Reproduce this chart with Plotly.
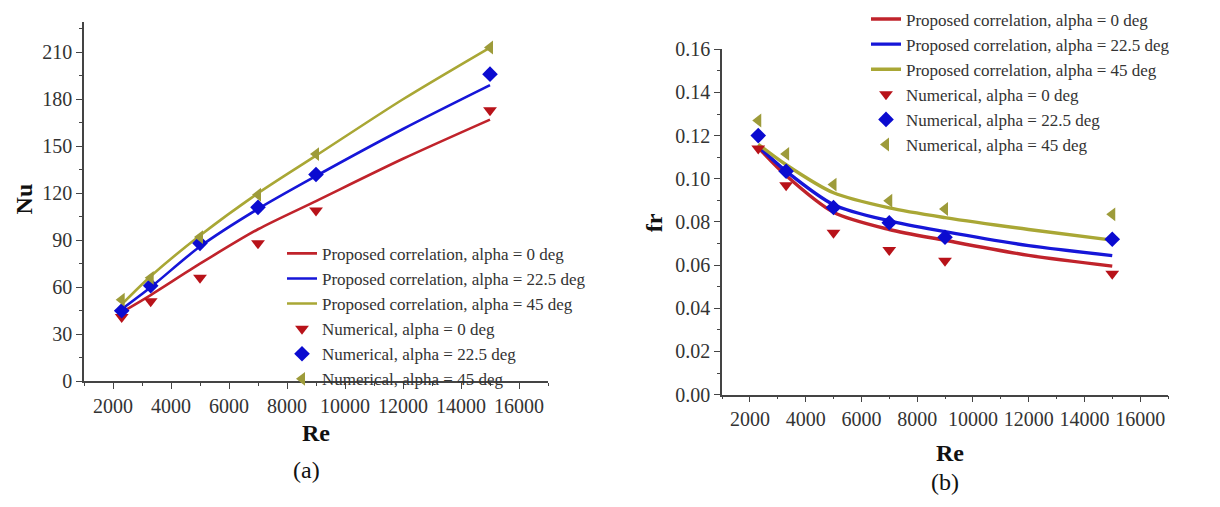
import plotly.graph_objects as go

W, H = 1220, 507

# ---- data -------------------------------------------------------------
re_num = [2300, 3300, 5000, 7000, 9000, 15000]
re_fit = [2300, 3300, 5000, 7000, 9000, 12000, 15000]

labels_fit = ["Proposed correlation, alpha = 0 deg",
              "Proposed correlation, alpha = 22.5 deg",
              "Proposed correlation, alpha = 45 deg"]
labels_num = ["Numerical, alpha = 0 deg",
              "Numerical, alpha = 22.5 deg",
              "Numerical, alpha = 45 deg"]

# Nusselt number
nu_fit_0 = [44, 55, 75, 97, 115, 142, 167]
nu_fit_225 = [46, 60, 86, 110, 131, 161, 189]
nu_fit_45 = [49, 67, 93, 120, 144, 180, 213]
nu_num_0 = [41, 51, 66, 88, 109, 173]
nu_num_225 = [45, 61, 88, 111, 132, 196]
nu_num_45 = [52, 66, 92, 119, 145, 213]

# friction factor
fr_fit_0 = [0.1145, 0.1015, 0.0845, 0.0765, 0.0715, 0.0645, 0.0595]
fr_fit_225 = [0.1150, 0.1035, 0.0880, 0.0805, 0.0755, 0.0690, 0.0644]
fr_fit_45 = [0.1160, 0.1065, 0.0935, 0.0865, 0.0820, 0.0765, 0.0716]
fr_num_0 = [0.114, 0.097, 0.075, 0.067, 0.062, 0.056]
fr_num_225 = [0.120, 0.1035, 0.0867, 0.0796, 0.0729, 0.072]
fr_num_45 = [0.127, 0.1115, 0.0973, 0.0898, 0.086, 0.0835]

# ---- styling ----------------------------------------------------------
line_colors = ["#c0232b", "#1616d8", "#a9a735"]
marker_colors = ["#b81219", "#0b0bd0", "#9d9b3a"]
marker_symbols = ["triangle-down", "diamond", "triangle-left"]
FONT = "Liberation Serif"

fig = go.Figure()


def add_panel(xa, ya, legend, fits, nums, lw):
    for name, ys, c in zip(labels_fit, fits, line_colors):
        fig.add_trace(go.Scatter(
            x=re_fit, y=ys, mode="lines", name=name,
            line=dict(color=c, width=lw, shape="spline", smoothing=0.8),
            xaxis=xa, yaxis=ya, legend=legend))
    for name, ys, c, s in zip(labels_num, nums, marker_colors, marker_symbols):
        fig.add_trace(go.Scatter(
            x=re_num, y=ys, mode="markers", name=name,
            marker=dict(color=c, symbol=s, size=12, line=dict(width=0)),
            xaxis=xa, yaxis=ya, legend=legend))


add_panel("x", "y", "legend", [nu_fit_0, nu_fit_225, nu_fit_45],
          [nu_num_0, nu_num_225, nu_num_45], 2.6)
add_panel("x2", "y2", "legend2", [fr_fit_0, fr_fit_225, fr_fit_45],
          [fr_num_0, fr_num_225, fr_num_45], 3.4)

axis_common = dict(
    showline=True, linecolor="#444", linewidth=1.6, mirror=False,
    ticks="outside", ticklen=6, tickwidth=1.4, tickcolor="#444",
    showgrid=False, zeroline=False,
    tickfont=dict(family=FONT, size=20, color="#333"),
)

xaxis_common = dict(axis_common, range=[1000, 17000],
                    tickvals=list(range(2000, 16001, 2000)), tickformat="d",
                    minor=dict(ticks="outside", ticklen=3, tickwidth=1.2,
                               tickcolor="#444", dtick=1000, tick0=1000))


def px(x):
    return x / W


def py(y):
    return 1 - y / H


legend_common = dict(
    font=dict(family=FONT, size=17, color="#333"),
    bgcolor="rgba(0,0,0,0)", borderwidth=0,
    xanchor="left", yanchor="top", tracegroupgap=0,
    itemwidth=30, traceorder="normal",
)

fig.update_layout(
    width=W, height=H,
    margin=dict(l=0, r=0, t=0, b=0),
    font=dict(family=FONT, color="#333"),
    paper_bgcolor="white", plot_bgcolor="white",
    xaxis=dict(xaxis_common, domain=[px(84), px(548)], anchor="y"),
    yaxis=dict(axis_common, domain=[py(387), py(12)], anchor="x",
               range=[0, 229], tickvals=list(range(0, 211, 30)),
               minor=dict(ticks="outside", ticklen=3, tickwidth=1.2,
                          tickcolor="#444", dtick=15, tick0=0)),
    xaxis2=dict(xaxis_common, domain=[px(722), px(1168)], anchor="y2"),
    yaxis2=dict(axis_common, domain=[py(401), py(40)], anchor="x2",
                range=[0, 0.16], tickvals=[i / 100 for i in range(0, 17, 2)],
                tickformat=".2f",
                minor=dict(ticks="outside", ticklen=3, tickwidth=1.2,
                           tickcolor="#444", dtick=0.01, tick0=0)),
    legend=dict(legend_common, x=px(282), y=py(235)),
    legend2=dict(legend_common, x=px(866), y=py(-10)),
    showlegend=True,
)

title_font = dict(family=FONT, size=24, color="#111")
annots = [
    dict(text="<b>Nu</b>", x=px(24), y=py(197), textangle=-90),
    dict(text="<b>Re</b>", x=px(316), y=py(441)),
    dict(text="(a)", x=px(306), y=py(480)),
    dict(text="<b>fr</b>", x=px(654), y=py(222), textangle=-90),
    dict(text="<b>Re</b>", x=px(950), y=py(462)),
    dict(text="(b)", x=px(945), y=py(492)),
]
for a in annots:
    fig.add_annotation(xref="paper", yref="paper", showarrow=False,
                       xanchor="center", yanchor="middle",
                       font=title_font, **a)

fig.write_html("out.html")
